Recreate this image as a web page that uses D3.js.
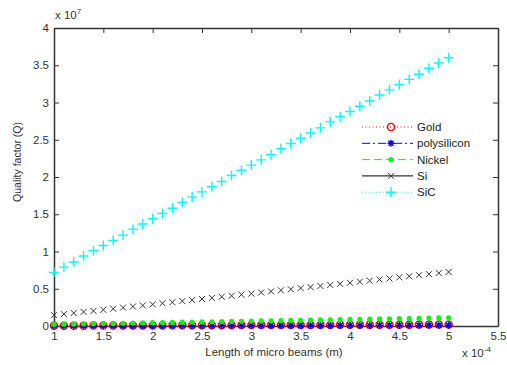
<!DOCTYPE html>
<html>
<head>
<meta charset="utf-8">
<script src="https://cdn.jsdelivr.net/npm/d3@7"></script>
<style>
  body { margin: 0; background: #fff; }
  svg { display: block; font-family: "Liberation Sans", Arial, sans-serif; }
  .axis text { fill: #333; font-size: 11.5px; }
  .axis path, .axis line { stroke: #333; }
</style>
</head>
<body>
<div id="chart"></div>
<script>
"use strict";

// beam length, in units of 1e-4 m
const lengths = [1.0, 1.1, 1.2, 1.3, 1.4, 1.5, 1.6, 1.7, 1.8, 1.9, 2.0, 2.1, 2.2, 2.3, 2.4,
  2.5, 2.6, 2.7, 2.8, 2.9, 3.0, 3.1, 3.2, 3.3, 3.4, 3.5, 3.6, 3.7, 3.8, 3.9, 4.0, 4.1,
  4.2, 4.3, 4.4, 4.5, 4.6, 4.7, 4.8, 4.9, 5.0];

// quality factor, in units of 1e7
const gold = [0.004, 0.004, 0.005, 0.005, 0.006, 0.006, 0.006, 0.007, 0.007, 0.008, 0.008,
  0.008, 0.009, 0.009, 0.010, 0.010, 0.010, 0.011, 0.011, 0.012, 0.012, 0.012, 0.013,
  0.013, 0.014, 0.014, 0.014, 0.015, 0.015, 0.016, 0.016, 0.016, 0.017, 0.017, 0.018,
  0.018, 0.018, 0.019, 0.019, 0.020, 0.020];
const polysilicon = [0.002, 0.002, 0.002, 0.003, 0.003, 0.003, 0.003, 0.003, 0.004, 0.004,
  0.004, 0.004, 0.004, 0.005, 0.005, 0.005, 0.005, 0.005, 0.006, 0.006, 0.006, 0.006,
  0.006, 0.007, 0.007, 0.007, 0.007, 0.007, 0.008, 0.008, 0.008, 0.008, 0.008, 0.009,
  0.009, 0.009, 0.009, 0.009, 0.010, 0.010, 0.010];
const nickel = [0.022, 0.024, 0.026, 0.029, 0.031, 0.033, 0.035, 0.037, 0.040, 0.042, 0.044,
  0.046, 0.048, 0.051, 0.053, 0.055, 0.057, 0.059, 0.062, 0.064, 0.066, 0.068, 0.070,
  0.073, 0.075, 0.077, 0.079, 0.081, 0.084, 0.086, 0.088, 0.090, 0.092, 0.095, 0.097,
  0.099, 0.101, 0.103, 0.106, 0.108, 0.110];
const si = [0.145, 0.16, 0.174, 0.189, 0.203, 0.218, 0.232, 0.247, 0.261, 0.276, 0.29, 0.305,
  0.319, 0.334, 0.348, 0.363, 0.377, 0.392, 0.406, 0.421, 0.435, 0.45, 0.464, 0.479, 0.493,
  0.508, 0.522, 0.537, 0.551, 0.566, 0.58, 0.595, 0.609, 0.624, 0.638, 0.653, 0.667, 0.682,
  0.696, 0.711, 0.725];
const sic = [0.72, 0.79, 0.86, 0.94, 1.01, 1.08, 1.15, 1.22, 1.30, 1.37, 1.44, 1.51, 1.58,
  1.66, 1.73, 1.80, 1.87, 1.94, 2.02, 2.09, 2.16, 2.23, 2.30, 2.38, 2.45, 2.52, 2.59, 2.66,
  2.74, 2.81, 2.88, 2.95, 3.02, 3.10, 3.17, 3.24, 3.31, 3.38, 3.46, 3.53, 3.60];

const xTicks = [1, 1.5, 2, 2.5, 3, 3.5, 4, 4.5, 5, 5.5];
const yTicks = [0, 0.5, 1, 1.5, 2, 2.5, 3, 3.5, 4];

const series = [
  { name: "Gold", values: gold, color: "#ff0000", marker: "circle", dash: "1,2.5" },
  { name: "polysilicon", values: polysilicon, color: "#0000ff", marker: "star", dash: "8,3,2,3" },
  { name: "Nickel", values: nickel, color: "#00ff00", marker: "dot", dash: "8,4" },
  { name: "Si", values: si, color: "#000000", marker: "x", dash: null },
  { name: "SiC", values: sic, color: "#00ffff", marker: "plus", dash: "1,2.5" }
];

const width = 507, height = 365;
const margin = { top: 28, right: 9, bottom: 39, left: 54 };

const svg = d3.select("#chart").append("svg")
  .attr("width", width)
  .attr("height", height);

const x = d3.scaleLinear().domain([1, 5.5]).range([margin.left, width - margin.right]);
const y = d3.scaleLinear().domain([0, 4]).range([height - margin.bottom, margin.top]);

// axes, ticks pointing inward like matlab
const fmt = d3.format("");
svg.append("g").attr("class", "axis")
  .attr("transform", "translate(0," + y(0) + ")")
  .call(d3.axisBottom(x).tickValues(xTicks).tickFormat(fmt).tickSizeInner(-5).tickSizeOuter(0).tickPadding(6));
svg.append("g").attr("class", "axis")
  .attr("transform", "translate(" + x(1) + ",0)")
  .call(d3.axisLeft(y).tickValues(yTicks).tickFormat(fmt).tickSizeInner(-5).tickSizeOuter(0).tickPadding(5));
svg.append("g").attr("class", "axis")
  .attr("transform", "translate(0," + y(4) + ")")
  .call(d3.axisTop(x).tickValues(xTicks).tickFormat("").tickSizeInner(-5).tickSizeOuter(0));
svg.append("g").attr("class", "axis")
  .attr("transform", "translate(" + x(5.5) + ",0)")
  .call(d3.axisRight(y).tickValues(yTicks).tickFormat("").tickSizeInner(-5).tickSizeOuter(0));

svg.selectAll(".axis .domain").attr("stroke-width", 1.5);

// exponent labels
const exp7 = svg.append("text").attr("x", x(1) + 1).attr("y", 19)
  .attr("font-size", 11.5).attr("fill", "#333");
exp7.append("tspan").text("x 10");
exp7.append("tspan").attr("dy", -5).attr("font-size", 8).text("7");

const exp4 = svg.append("text").attr("x", 462).attr("y", 357)
  .attr("font-size", 11.5).attr("fill", "#333");
exp4.append("tspan").text("x 10");
exp4.append("tspan").attr("dy", -5).attr("font-size", 8).text("-4");

// axis titles
svg.append("text")
  .attr("x", (x(1) + x(5.5)) / 2 - 2)
  .attr("y", 356)
  .attr("text-anchor", "middle")
  .attr("font-size", 11.5)
  .attr("fill", "#333")
  .text("Length of micro beams (m)");

svg.append("text")
  .attr("transform", "translate(21," + 162 + ") rotate(-90)")
  .attr("text-anchor", "middle")
  .attr("font-size", 10.5)
  .attr("fill", "#333")
  .text("Quality factor (Q)");

// marker drawing helper
function drawMarker(g, type, color) {
  if (type === "circle") {
    g.append("circle").attr("r", 3.6).attr("fill", "none")
      .attr("stroke", color).attr("stroke-width", 1.3);
  } else if (type === "star") {
    g.append("path").attr("d", "M-3.5,0H3.5M0,-3.5V3.5M-2.5,-2.5L2.5,2.5M-2.5,2.5L2.5,-2.5")
      .attr("stroke", color).attr("stroke-width", 1.4);
  } else if (type === "dot") {
    g.append("circle").attr("r", 2.6).attr("fill", color);
  } else if (type === "x") {
    g.append("path").attr("d", "M-3,-3L3,3M-3,3L3,-3")
      .attr("stroke", "#333").attr("stroke-width", 1);
  } else if (type === "plus") {
    g.append("path").attr("d", "M-5,0H5M0,-5V5")
      .attr("stroke", color).attr("stroke-width", 1.4);
  }
}

// data points
series.forEach(function (s) {
  const grp = svg.append("g").attr("class", "series");
  grp.selectAll("g")
    .data(s.values)
    .enter()
    .append("g")
    .attr("transform", function (d, i) {
      return "translate(" + x(lengths[i]) + "," + y(d) + ")";
    })
    .each(function () { drawMarker(d3.select(this), s.marker, s.color); });
});

// legend (no box)
const legend = svg.append("g").attr("transform", "translate(362,127)");
series.forEach(function (s, i) {
  const row = legend.append("g").attr("transform", "translate(0," + i * 16.3 + ")");
  row.append("line")
    .attr("x1", 0).attr("x2", 51)
    .attr("stroke", s.color)
    .attr("stroke-width", 1)
    .attr("stroke-dasharray", s.dash);
  const m = row.append("g").attr("transform", "translate(29,0)");
  drawMarker(m, s.marker, s.color);
  row.append("text")
    .attr("x", 55).attr("dy", "0.35em")
    .attr("font-size", 11.5)
    .attr("fill", "#222")
    .text(s.name);
});
</script>
</body>
</html>
